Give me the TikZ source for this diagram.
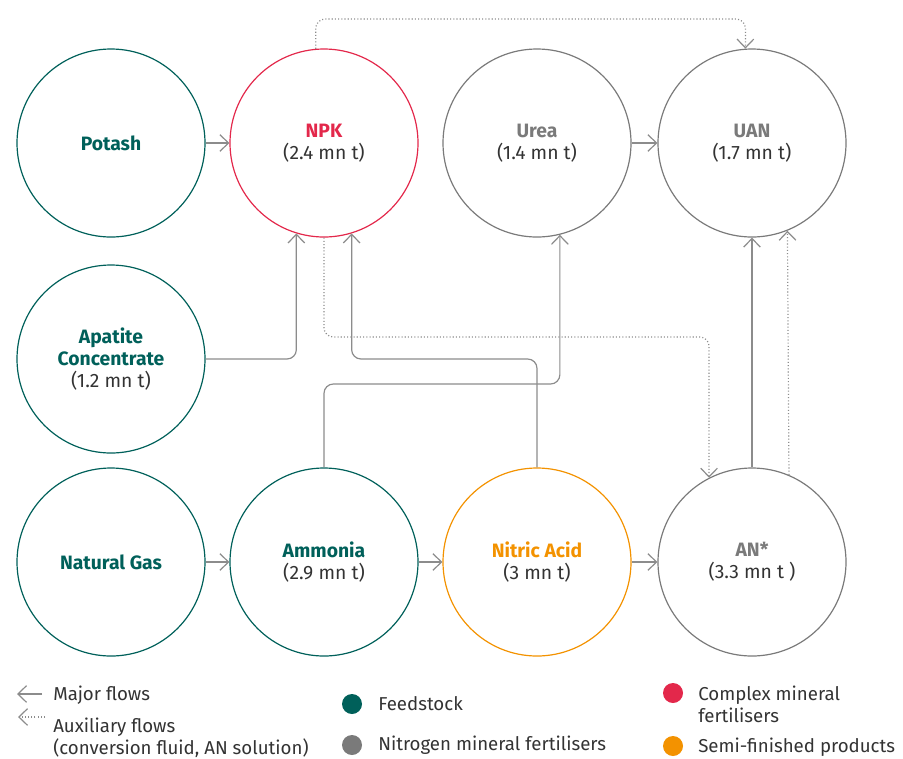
\documentclass[tikz,border=0pt]{standalone}
\usepackage{fontspec}
\setmainfont{Fira Sans}
\usetikzlibrary{arrows.meta, positioning}
\definecolor{feedteal}{HTML}{00605A}
\definecolor{complexred}{HTML}{E3284B}
\definecolor{nitrogray}{HTML}{7A7A7A}
\definecolor{semiorange}{HTML}{F39200}
\definecolor{flowgray}{HTML}{8C8C8C}
\definecolor{textdark}{HTML}{333333}
\tikzset{
  plant/.style={circle, draw, line width=0.9pt, minimum size=141pt, inner sep=0pt,
    align=center, text=textdark, font=\fontsize{14.5}{16.5}\selectfont},
  feed/.style={plant, draw=feedteal},
  flow/.style={draw=flowgray, line width=0.9pt, rounded corners=7pt,
    -{Straight Barb[length=6.5pt, width=12.5pt]}},
  auxflow/.style={flow, dash pattern=on 0.8pt off 1.6pt},
  legendtext/.style={anchor=west, align=left, text=textdark, inner sep=0pt,
    font=\fontsize{14}{16.5}\selectfont},
  legenddot/.style={circle, inner sep=0pt, minimum size=15pt}
}
\begin{document}
\begin{tikzpicture}[x=0.75pt, y=-0.75pt]
  \useasboundingbox (0,0) rectangle (903,758);
  % plants
  \node[feed] (potash) at (111,143) {\textcolor{feedteal}{\bfseries Potash}};
  \node[plant, draw=complexred] (npk) at (324,143) {\textcolor{complexred}{\bfseries NPK}\\(2.4 mn t)};
  \node[plant, draw=nitrogray] (urea) at (537,143) {\textcolor{nitrogray}{\bfseries Urea}\\(1.4 mn t)};
  \node[plant, draw=nitrogray] (uan) at (752,143) {\textcolor{nitrogray}{\bfseries UAN}\\(1.7 mn t)};
  \node[feed] (apatite) at (111,359) {\textcolor{feedteal}{\bfseries Apatite}\\\textcolor{feedteal}{\bfseries Concentrate}\\(1.2 mn t)};
  \node[feed] (natgas) at (111,562) {\textcolor{feedteal}{\bfseries Natural Gas}};
  \node[feed] (ammonia) at (324,562) {\textcolor{feedteal}{\bfseries Ammonia}\\(2.9 mn t)};
  \node[plant, draw=semiorange] (nitric) at (537,562) {\textcolor{semiorange}{\bfseries Nitric Acid}\\(3 mn t)};
  \node[plant, draw=nitrogray] (an) at (752,562) {\textcolor{nitrogray}{\bfseries AN*}\\(3.3 mn t )};

  % major flows
  \draw[flow] (potash) -- (npk);
  \draw[flow] (urea) -- (uan);
  \draw[flow] (natgas) -- (ammonia);
  \draw[flow] (ammonia) -- (nitric);
  \draw[flow] (nitric) -- (an);
  \draw[flow] (apatite.east) -| (npk.253.9);
  \draw[flow] (ammonia.north) -- (ammonia.north |- 0,384) -| (urea.284.8);
  \draw[flow] (nitric.north) -- (nitric.north |- 0,359) -| (npk.287.3);
  \draw[flow] (an.north) -- (uan.south);

  % auxiliary flows
  \draw[auxflow] (npk.south) -- (npk.south |- 0,337) -| (an.117.2);
  \draw[auxflow] (npk.95.5) -- (npk.95.5 |- 0,19) -| (uan.94.3);
  \draw[auxflow] (an.67.5) -- (uan.292.5);

  % legend
  \coordinate (majorA) at (42,694);
  \coordinate (majorB) at (17,694);
  \coordinate (auxA) at (45,717);
  \coordinate (auxB) at (18,717);
  \draw[flow] (majorA) -- (majorB);
  \draw[auxflow] (auxA) -- (auxB);
  \node[legendtext] (majorlbl) at (53,695) {Major flows};
  \node[legendtext] (auxlbl) at (53,738) {Auxiliary flows\\(conversion fluid, AN solution)};

  \node[legenddot, fill=feedteal] (dotfeed) at (352,704) {};
  \node[legenddot, fill=nitrogray] (dotnitro) at (352,745) {};
  \node[legenddot, fill=complexred] (dotcomplex) at (673,693) {};
  \node[legenddot, fill=semiorange] (dotsemi) at (673,746) {};
  \node[legendtext] (feedlbl) at (378,704) {Feedstock};
  \node[legendtext] (nitrolbl) at (378,745) {Nitrogen mineral fertilisers};
  \node[legendtext] (complexlbl) at (698,704) {Complex mineral\\fertilisers};
  \node[legendtext] (semilbl) at (698,747) {Semi-finished products};
\end{tikzpicture}
\end{document}
